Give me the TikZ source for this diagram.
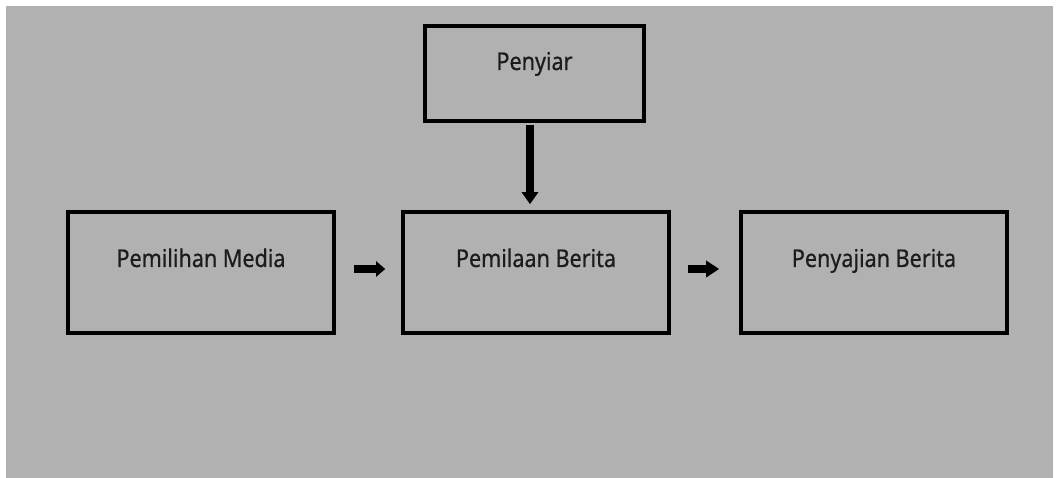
\documentclass[tikz,border=0pt]{standalone}
\usepackage{fontspec}
\setmainfont{Noto Sans}[FakeStretch=0.88,FakeBold=0.6]
\usetikzlibrary{arrows.meta}
\definecolor{bg}{HTML}{B1B1B1}
\definecolor{txtc}{HTML}{1C1C1C}
\tikzset{
  box/.style={draw=black, line width=3.6pt, fill=none, inner sep=0pt},
  lbl/.style={text=txtc, font=\fontsize{24.5}{28}\selectfont, inner sep=0pt, anchor=base},
  fatarrow/.style={draw=black, line width=7.5pt},
}
\begin{document}
\begin{tikzpicture}[x=1pt,y=-1pt]
\useasboundingbox (0,0) rectangle (1057,478);
\fill[white] (0,0) rectangle (1057,478);
\fill[bg] (6,6) rectangle (1053,478);
\node[box, minimum width=219pt, minimum height=95pt] (p) at (534.5,73.5) {};
\node[box, minimum width=266pt, minimum height=121pt] (m) at (201,272.5) {};
\node[box, minimum width=266pt, minimum height=121pt] (b) at (536,272.5) {};
\node[box, minimum width=266pt, minimum height=121pt] (s) at (874,272.5) {};
\node[lbl] (pt) at ([yshift=3.5pt]p.center) {Penyiar};
\node[lbl] (mt) at ([yshift=5.5pt]m.center) {Pemilihan Media};
\node[lbl] (bt) at ([yshift=5.5pt]b.center) {Pemilaan Berita};
\node[lbl] (st) at ([yshift=5.5pt]s.center) {Penyajian Berita};
\draw[fatarrow, -{Triangle[length=12pt,width=16pt]}, shorten <=1.8pt, shorten >=6pt]
  ([xshift=-4.5pt]p.south) -- ([xshift=-6pt]b.north);
\draw[fatarrow, -{Triangle[length=9pt,width=15pt]}, shorten <=18pt, shorten >=16pt]
  ([yshift=3.5pt]m.east) -- ([yshift=3.5pt]b.west);
\draw[fatarrow, -{Triangle[length=13pt,width=16pt]}, shorten <=17pt, shorten >=20pt]
  ([yshift=3.5pt]b.east) -- ([yshift=3.5pt]s.west);
\end{tikzpicture}
\end{document}
